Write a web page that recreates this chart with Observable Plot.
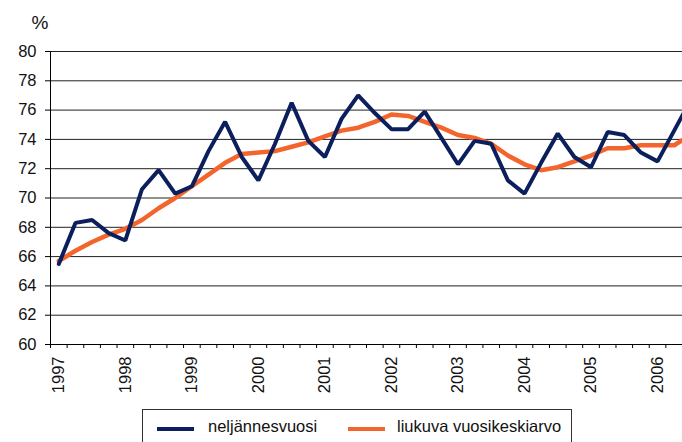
<!DOCTYPE html>
<html>
<head>
<meta charset="utf-8">
<script src="https://cdn.jsdelivr.net/npm/d3@7"></script>
<script src="https://cdn.jsdelivr.net/npm/@observablehq/plot@0.6"></script>
<style>
  html, body { margin: 0; padding: 0; background: #fff; }
  #wrap { position: relative; width: 682px; height: 442px; overflow: hidden; font-family: "Liberation Sans", Arial, sans-serif; }
  #legend { position: absolute; left: 142px; top: 409px; width: 430px; height: 60px; border: 1px solid #333; box-sizing: border-box; }
  .sw { position: absolute; height: 4px; top: 17px; width: 37px; }
  .lt { position: absolute; top: 7px; font-size: 16.5px; line-height: 18px; color: #111; white-space: nowrap; }
</style>
</head>
<body>
<div id="wrap"></div>
<script>
// Quarterly values, 1997Q1 .. 2006Q3 (last one is just beyond the visible edge)
const startYear = 1997;
const yearLabels = ["1997","1998","1999","2000","2001","2002","2003","2004","2005","2006"];
const quarterly = [
  65.5, 68.3, 68.5, 67.6,
  67.1, 70.6, 71.9, 70.3,
  70.8, 73.2, 75.2, 72.8,
  71.2, 73.7, 76.5, 73.9,
  72.8, 75.4, 77.0, 75.8,
  74.7, 74.7, 75.9, 74.1,
  72.3, 73.9, 73.7, 71.2,
  70.3, 72.4, 74.4, 72.8,
  72.1, 74.5, 74.3, 73.1,
  72.5, 74.6, 76.7
];
const movingAvg = [
  65.7, 66.4, 67.0, 67.5,
  67.9, 68.5, 69.3, 70.0,
  70.8, 71.6, 72.4, 73.0,
  73.1, 73.2, 73.5, 73.8,
  74.2, 74.6, 74.8, 75.2,
  75.7, 75.6, 75.2, 74.8,
  74.3, 74.1, 73.7, 72.9,
  72.3, 71.9, 72.1, 72.5,
  72.9, 73.4, 73.4, 73.6,
  73.6, 73.6, 74.3
];
const yTicks = [60, 62, 64, 66, 68, 70, 72, 74, 76, 78, 80];
const seriesNames = ["neljännesvuosi", "liukuva vuosikeskiarvo"];
const colors = ["#0b1f5c", "#f3652c"];

const totalQuarters = 40;   // full axis span of the original chart
const visibleQuarters = 38; // quarters visible in the picture
const q = quarterly.map((v, i) => ({i: i + 0.5, v}));
const m = movingAvg.map((v, i) => ({i: i + 0.5, v}));
const yearPos = yearLabels.map((_, k) => k * 4 + 0.5);

const W = 682, ML = 50;
const bandW = (W - ML) / visibleQuarters;

const chart = Plot.plot({
  width: W,
  height: 400,
  marginLeft: ML,
  marginRight: 0,
  marginTop: 51,
  marginBottom: 56,
  style: {fontFamily: '"Liberation Sans", Arial, sans-serif', fontSize: "16.5px", color: "#111", background: "transparent", overflow: "hidden"},
  x: {domain: [0, totalQuarters], range: [ML, ML + totalQuarters * bandW]},
  y: {domain: [60, 80]},
  marks: [
    Plot.gridY(yTicks, {stroke: "#222", strokeOpacity: 1, strokeWidth: 1}),
    Plot.ruleY([60], {stroke: "#000"}),
    Plot.ruleX([0], {y1: 60, y2: 80, stroke: "#000"}),
    Plot.axisY({ticks: yTicks, tickSize: 5, tickPadding: 9, label: null, fontSize: 16.5, stroke: "#000"}),
    Plot.axisX({ticks: d3.range(0, visibleQuarters + 1), tickSize: 4, tickFormat: () => "", label: null, stroke: "#000"}),
    Plot.axisX({ticks: yearPos, tickSize: 0, tickPadding: 12, tickRotate: -90, tickFormat: (d) => yearLabels[Math.round((d - 0.5) / 4)], label: null, fontSize: 16.5}),
    Plot.line(m, {x: "i", y: "v", stroke: colors[1], strokeWidth: 4.5, clip: true, strokeLinejoin: "miter"}),
    Plot.line(q, {x: "i", y: "v", stroke: colors[0], strokeWidth: 4, clip: true, strokeLinejoin: "miter"}),
    Plot.text(["%"], {frameAnchor: "top-left", textAnchor: "start", lineAnchor: "bottom", dx: -19, dy: -23, fontSize: 19, fill: "#111"})
  ]
});

const wrap = document.getElementById("wrap");
chart.style.position = "absolute";
chart.style.left = "0px";
chart.style.top = "0px";
wrap.appendChild(chart);

const legend = document.createElement("div");
legend.id = "legend";
const items = [
  {name: seriesNames[0], color: colors[0], sx: 14, tx: 65},
  {name: seriesNames[1], color: colors[1], sx: 205, tx: 254}
];
for (const it of items) {
  const sw = document.createElement("div");
  sw.className = "sw";
  sw.style.left = it.sx + "px";
  sw.style.background = it.color;
  legend.appendChild(sw);
  const t = document.createElement("div");
  t.className = "lt";
  t.style.left = it.tx + "px";
  t.textContent = it.name;
  legend.appendChild(t);
}
wrap.appendChild(legend);
</script>
</body>
</html>
